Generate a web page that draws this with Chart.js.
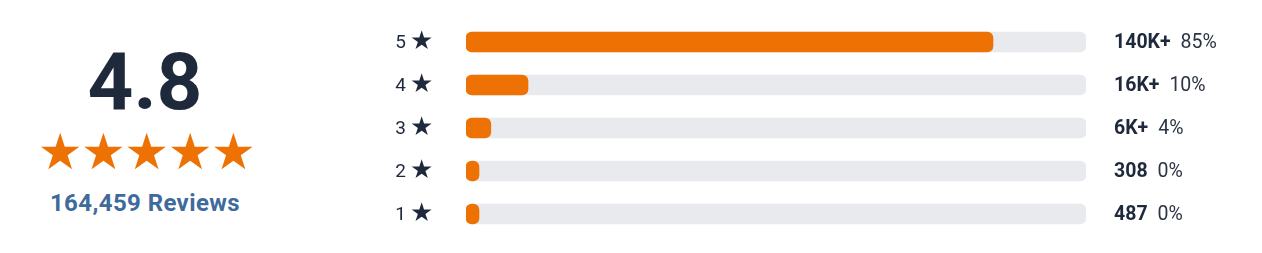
<!DOCTYPE html>
<html>
<head>
<meta charset="utf-8">
<script src="https://cdn.jsdelivr.net/npm/chart.js@4.4.0/dist/chart.umd.min.js"></script>
<style>
  html, body { margin: 0; padding: 0; background: #fff; }
  body { width: 1262px; height: 253px; position: relative; overflow: hidden; font-family: Roboto, sans-serif; }
  #wrap { position: absolute; left: 0; top: 0; width: 1262px; height: 253px; }
  #summary { position: absolute; left: 20px; top: 42px; width: 250px; text-align: center; }
  #avg { font-size: 80px; font-weight: 700; color: #1e293b; line-height: 1; }
  #stars { font-family: "DejaVu Sans", sans-serif; font-size: 50px; color: #ee7203; line-height: 1; margin-top: 5px; letter-spacing: -1.5px; padding-left: 2px; }
  #total { font-size: 24px; font-weight: 700; color: #3f6a9c; margin-top: 12px; letter-spacing: 0.4px; }
</style>
</head>
<body>
<div id="summary">
  <div id="avg">4.8</div>
  <div id="stars">★★★★★</div>
  <div id="total">164,459 Reviews</div>
</div>
<div id="wrap"><canvas id="myChart"></canvas></div>
<script>
const ratings = ['5', '4', '3', '2', '1'];
const percents = [85, 10, 4, 0, 0];
const counts = ['140K+', '16K+', '6K+', '308', '487'];
const track = [100, 100, 100, 100, 100];

const orange = '#ee7203';
const navy = '#1e293b';

// draws the "5 ★" labels on the left and "140K+ 85%" on the right
const rowLabels = {
  id: 'rowLabels',
  afterDatasetsDraw(chart) {
    const c = chart.ctx;
    const y = chart.scales.y;
    const area = chart.chartArea;
    c.save();
    c.textBaseline = 'middle';
    ratings.forEach((r, i) => {
      const py = y.getPixelForValue(i);
      c.fillStyle = navy;
      c.font = '19px Roboto';
      c.textAlign = 'right';
      c.fillText(r, 406, py + 1);
      c.font = '26px "DejaVu Sans"';
      c.textAlign = 'left';
      c.fillText('★', 410, py);

      c.font = 'bold 19.5px Roboto';
      c.fillText(counts[i], area.right + 28, py + 1);
      const w = c.measureText(counts[i]).width;
      c.font = '19.5px Roboto';
      c.fillStyle = '#2b3443';
      c.fillText(percents[i] + '%', area.right + 28 + w + 10, py + 1);
    });
    c.restore();
  }
};

const ctx = document.getElementById('myChart').getContext('2d');
const myChart = new Chart(ctx, {
  type: 'bar',
  data: {
    labels: ratings,
    datasets: [
      {
        label: 'Share',
        data: percents,
        backgroundColor: orange,
        borderRadius: 6,
        borderSkipped: false,
        barThickness: 20,
        minBarLength: 13,
        order: 0
      },
      {
        label: 'Track',
        data: track,
        backgroundColor: '#e9eaee',
        borderRadius: 6,
        borderSkipped: false,
        barThickness: 20,
        order: 1
      }
    ]
  },
  options: {
    indexAxis: 'y',
    responsive: true,
    maintainAspectRatio: false,
    animation: false,
    grouped: false,
    layout: { padding: { left: 466, right: 176, top: 20.5, bottom: 17.5 } },
    scales: {
      x: { display: false, min: 0, max: 100 },
      y: { display: false }
    },
    plugins: {
      legend: { display: false },
      tooltip: { enabled: false }
    }
  },
  plugins: [rowLabels]
});
</script>
</body>
</html>
